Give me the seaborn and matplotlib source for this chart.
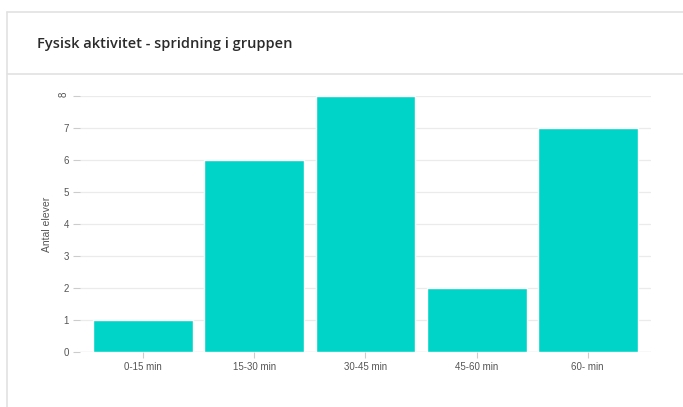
import matplotlib

matplotlib.use("Agg")
import matplotlib.pyplot as plt
import pandas as pd
import seaborn as sns
from matplotlib.lines import Line2D

# Data
categories = ["0-15 min", "15-30 min", "30-45 min", "45-60 min", "60- min"]
counts = [1, 6, 8, 2, 7]
y_ticks = [0, 1, 2, 3, 4, 5, 6, 7, 8]

title = "Fysisk aktivitet - spridning i gruppen"
y_label = "Antal elever"

bar_color = "#00d4c8"
card_line = "#e2e2e2"

df = pd.DataFrame({"interval": categories, "count": counts})

sns.set_theme(style="white")
plt.rcParams["font.family"] = ["Liberation Sans", "DejaVu Sans"]

fig = plt.figure(figsize=(6.83, 4.07), dpi=100)
fig.patch.set_facecolor("white")

# card frame: top border, left border, header separator
W, H = 683, 407
for xs, ys in [((7, W), (12, 12)), ((7, 7), (12, H)), ((7, W), (74, 74))]:
    fig.add_artist(Line2D([x / W for x in xs], [1 - y / H for y in ys],
                          color=card_line, lw=1.2, transform=fig.transFigure))

fig.text(37 / W, 1 - 44 / H, title, fontsize=10.5, fontweight="semibold",
         color="#2b2b2b", va="center", ha="left", family=["Open Sans", "DejaVu Sans"])

ax = fig.add_axes([80 / W, 1 - 352 / H, (651 - 80) / W, (352 - 96) / H])
sns.barplot(data=df, x="interval", y="count", color=bar_color, saturation=1,
            width=0.9, ax=ax)

ax.set_xlim(-0.57, 4.57)
ax.set_ylim(0, 8)
ax.set_yticks(y_ticks)
ax.yaxis.grid(True, color="#ebebeb", lw=0.9)
ax.set_axisbelow(True)
for s in ax.spines.values():
    s.set_visible(False)
ax.axhline(0, color="#e6e6e6", lw=0.9, zorder=0)

ax.tick_params(axis="y", left=True, length=5, width=0.8, color="#cccccc",
               labelsize=7, labelcolor="#555555", pad=3)
ax.tick_params(axis="x", bottom=True, length=4, width=0.8, color="#cccccc",
               labelsize=7, labelcolor="#555555", pad=3)
# top label is drawn sideways in the source
ax.get_yticklabels()[-1].set_rotation(90)

ax.set_xlabel("")
ax.set_ylabel(y_label, fontsize=7.5, color="#555555", labelpad=5)

fig.savefig("out.png", dpi=100)
